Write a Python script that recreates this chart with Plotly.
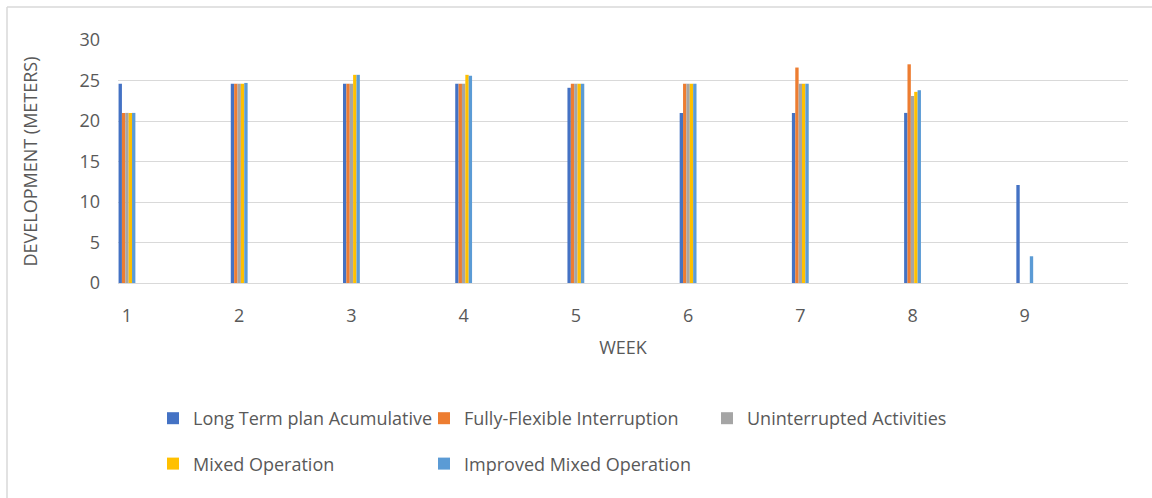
import plotly.graph_objects as go

# Weekly development per scheduling scenario (meters)
weeks = [1, 2, 3, 4, 5, 6, 7, 8, 9]
long_term_plan = [24.6, 24.6, 24.6, 24.6, 24.1, 21.0, 21.0, 21.0, 12.1]
fully_flexible = [21.0, 24.6, 24.6, 24.6, 24.6, 24.6, 26.6, 27.0, None]
uninterrupted = [21.0, 24.6, 24.6, 24.6, 24.6, 24.6, 24.6, 23.1, None]
mixed_operation = [21.0, 24.6, 25.7, 25.7, 24.6, 24.6, 24.6, 23.6, None]
improved_mixed = [21.0, 24.7, 25.7, 25.6, 24.6, 24.6, 24.6, 23.8, 3.3]

series_names = [
    "Long Term plan Acumulative",
    "Fully-Flexible Interruption",
    "Uninterrupted Activities",
    "Mixed Operation",
    "Improved Mixed Operation",
]
series_values = [long_term_plan, fully_flexible, uninterrupted, mixed_operation, improved_mixed]
series_colors = ["#4472C4", "#ED7D31", "#A5A5A5", "#FFC000", "#5B9BD5"]
legend_slots = ["legend", "legend2", "legend3", "legend", "legend2"]

FONT = "Open Sans"
FS = 18
TEXT = "#595959"
GRID = "#D9D9D9"
W, H = 1152, 498
ML, MR, MT, MB = 118, 24, 40, 215

fig = go.Figure()
for i, (name, vals, col, lg) in enumerate(zip(series_names, series_values, series_colors, legend_slots)):
    fig.add_trace(go.Bar(
        x=weeks, y=vals, name=name,
        marker=dict(color=col, line=dict(width=0)),
        legend=lg, legendgroup=f"g{i}",
    ))

pw = W - ML - MR
ph = H - MT - MB

def px_x(p):
    return (p - ML) / pw

def px_y(p):
    return (H - MB - p) / ph

legend_common = dict(
    orientation="v", traceorder="grouped", tracegroupgap=19,
    font=dict(family=FONT, size=FS, color=TEXT),
    bgcolor="rgba(0,0,0,0)", xanchor="left", yanchor="top",
    itemwidth=30,
)

fig.update_layout(
    width=W, height=H,
    margin=dict(l=ML, r=MR, t=MT, b=MB),
    paper_bgcolor="white", plot_bgcolor="white",
    barmode="group", bargap=0.85, bargroupgap=0,
    font=dict(family=FONT, color=TEXT),
    xaxis=dict(
        range=[0.92, 9.92], tickvals=weeks, ticktext=[str(w) for w in weeks],
        showgrid=False, zeroline=False, showline=True, linecolor=GRID, linewidth=1,
        ticks="", ticklabelstandoff=16,
        tickfont=dict(family=FONT, size=FS, color=TEXT),
        title=dict(text="WEEK", font=dict(family=FONT, size=FS, color=TEXT), standoff=15),
    ),
    yaxis=dict(
        range=[0, 30], tickvals=[0, 5, 10, 15, 20, 25, 30],
        showgrid=True, gridcolor=GRID, gridwidth=1, zeroline=False,
        ticks="", ticklabelstandoff=17,
        tickfont=dict(family=FONT, size=FS, color=TEXT),
        title=dict(text="DEVELOPMENT (METERS)", font=dict(family=FONT, size=FS, color=TEXT), standoff=37),
    ),
    legend=dict(legend_common, x=px_x(153), y=px_y(400)),
    legend2=dict(legend_common, x=px_x(424), y=px_y(400)),
    legend3=dict(legend_common, x=px_x(707), y=px_y(400)),
    showlegend=True,
)

# Light frame along the top and left edges of the chart area
fig.add_shape(type="line", xref="paper", yref="paper",
              x0=px_x(7), x1=px_x(W + 5), y0=px_y(7), y1=px_y(7),
              line=dict(color=GRID, width=1.5))
fig.add_shape(type="line", xref="paper", yref="paper",
              x0=px_x(7), x1=px_x(7), y0=px_y(7), y1=px_y(H + 5),
              line=dict(color=GRID, width=1.5))

fig.write_html("out.html")
